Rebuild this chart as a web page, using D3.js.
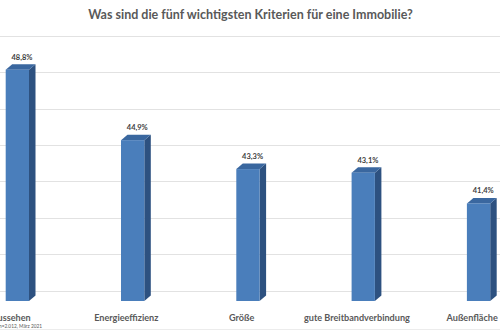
<!DOCTYPE html>
<html>
<head>
<meta charset="utf-8">
<script src="https://cdn.jsdelivr.net/npm/d3@7"></script>
<style>
  html, body { margin: 0; padding: 0; background: #fff; }
  svg { display: block; }
  text { font-family: Lato, "Open Sans", sans-serif; }
</style>
</head>
<body>
<svg id="chart" width="500" height="330"></svg>
<script>
// Survey: top five criteria when choosing a property (percent of respondents)
const categories = ["Aussehen", "Energieeffizienz", "Größe", "gute Breitbandverbindung", "Außenfläche"];
const values = [48.8, 44.9, 43.3, 43.1, 41.4];
const valueLabels = ["48,8%", "44,9%", "43,3%", "43,1%", "41,4%"];
const gridTicks = [36, 38, 40, 42, 44, 46, 48, 50];
const title = "Was sind die fünf wichtigsten Kriterien für eine Immobilie?";
const footnote = "n=2.012, März 2021";

const W = 500, H = 330;
const svg = d3.select("#chart");

// category positions
const x = d3.scalePoint().domain(categories).range([11, 472.2]);
// front-plane value scale (bars) and back-wall value scale (gridlines)
const yFront = d3.scaleLinear().domain([36, 50]).range([301, 48]);
const yBack = d3.scaleLinear().domain([36, 50]).range([290.5, 36]);

const barW = 23.3, dx = 6.5, dy = -5.5;
const cFront = "#4a7ebb", cSide = "#2d5180", cTop = "#3a679f";
const textCol = "#595959";

// back-wall gridlines
svg.append("g")
  .selectAll("line")
  .data(gridTicks)
  .join("line")
  .attr("x1", 0).attr("x2", W)
  .attr("y1", d => Math.round(yBack(d)) + 0.5)
  .attr("y2", d => Math.round(yBack(d)) + 0.5)
  .attr("stroke", "#e2e2e2")
  .attr("stroke-width", 1);

// 3D columns
const bars = svg.append("g")
  .selectAll("g")
  .data(categories.map((c, i) => ({ c, v: values[i], label: valueLabels[i] })))
  .join("g");

bars.each(function(d) {
  const g = d3.select(this);
  const x0 = x(d.c) - 5.3, x1 = x0 + barW;
  const yt = yFront(d.v), yb = yFront(36);
  // side face
  g.append("path")
    .attr("d", `M${x1},${yt} L${x1 + dx},${yt + dy} L${x1 + dx},${yb + dy} L${x1},${yb} Z`)
    .attr("fill", cSide);
  // top face
  g.append("path")
    .attr("d", `M${x0},${yt} L${x0 + dx},${yt + dy} L${x1 + dx},${yt + dy} L${x1},${yt} Z`)
    .attr("fill", cTop);
  // front face
  g.append("rect")
    .attr("x", x0).attr("y", yt)
    .attr("width", barW).attr("height", yb - yt)
    .attr("fill", cFront);
  // value label
  g.append("text")
    .attr("x", x(d.c) + 11)
    .attr("y", yt - 10)
    .attr("text-anchor", "middle")
    .attr("font-size", 7.5)
    .attr("font-weight", 700)
    .attr("fill", "#404040")
    .text(d.label);
});

// category labels
svg.append("g")
  .selectAll("text")
  .data(categories)
  .join("text")
  .attr("x", d => x(d))
  .attr("y", 321)
  .attr("text-anchor", "middle")
  .attr("font-size", 9.1)
  .attr("font-weight", 700)
  .attr("fill", textCol)
  .text(d => d);

// title
svg.append("text")
  .attr("x", 250.5)
  .attr("y", 19)
  .attr("text-anchor", "middle")
  .attr("font-size", 12.5)
  .attr("font-weight", 700)
  .attr("fill", textCol)
  .text(title);

// source note
svg.append("text")
  .attr("x", -1)
  .attr("y", 327.5)
  .attr("font-size", 4.8)
  .attr("fill", textCol)
  .text(footnote);

// bottom border
svg.append("line")
  .attr("x1", 0).attr("x2", W)
  .attr("y1", 329.5).attr("y2", 329.5)
  .attr("stroke", "#ececec");
</script>
</body>
</html>
